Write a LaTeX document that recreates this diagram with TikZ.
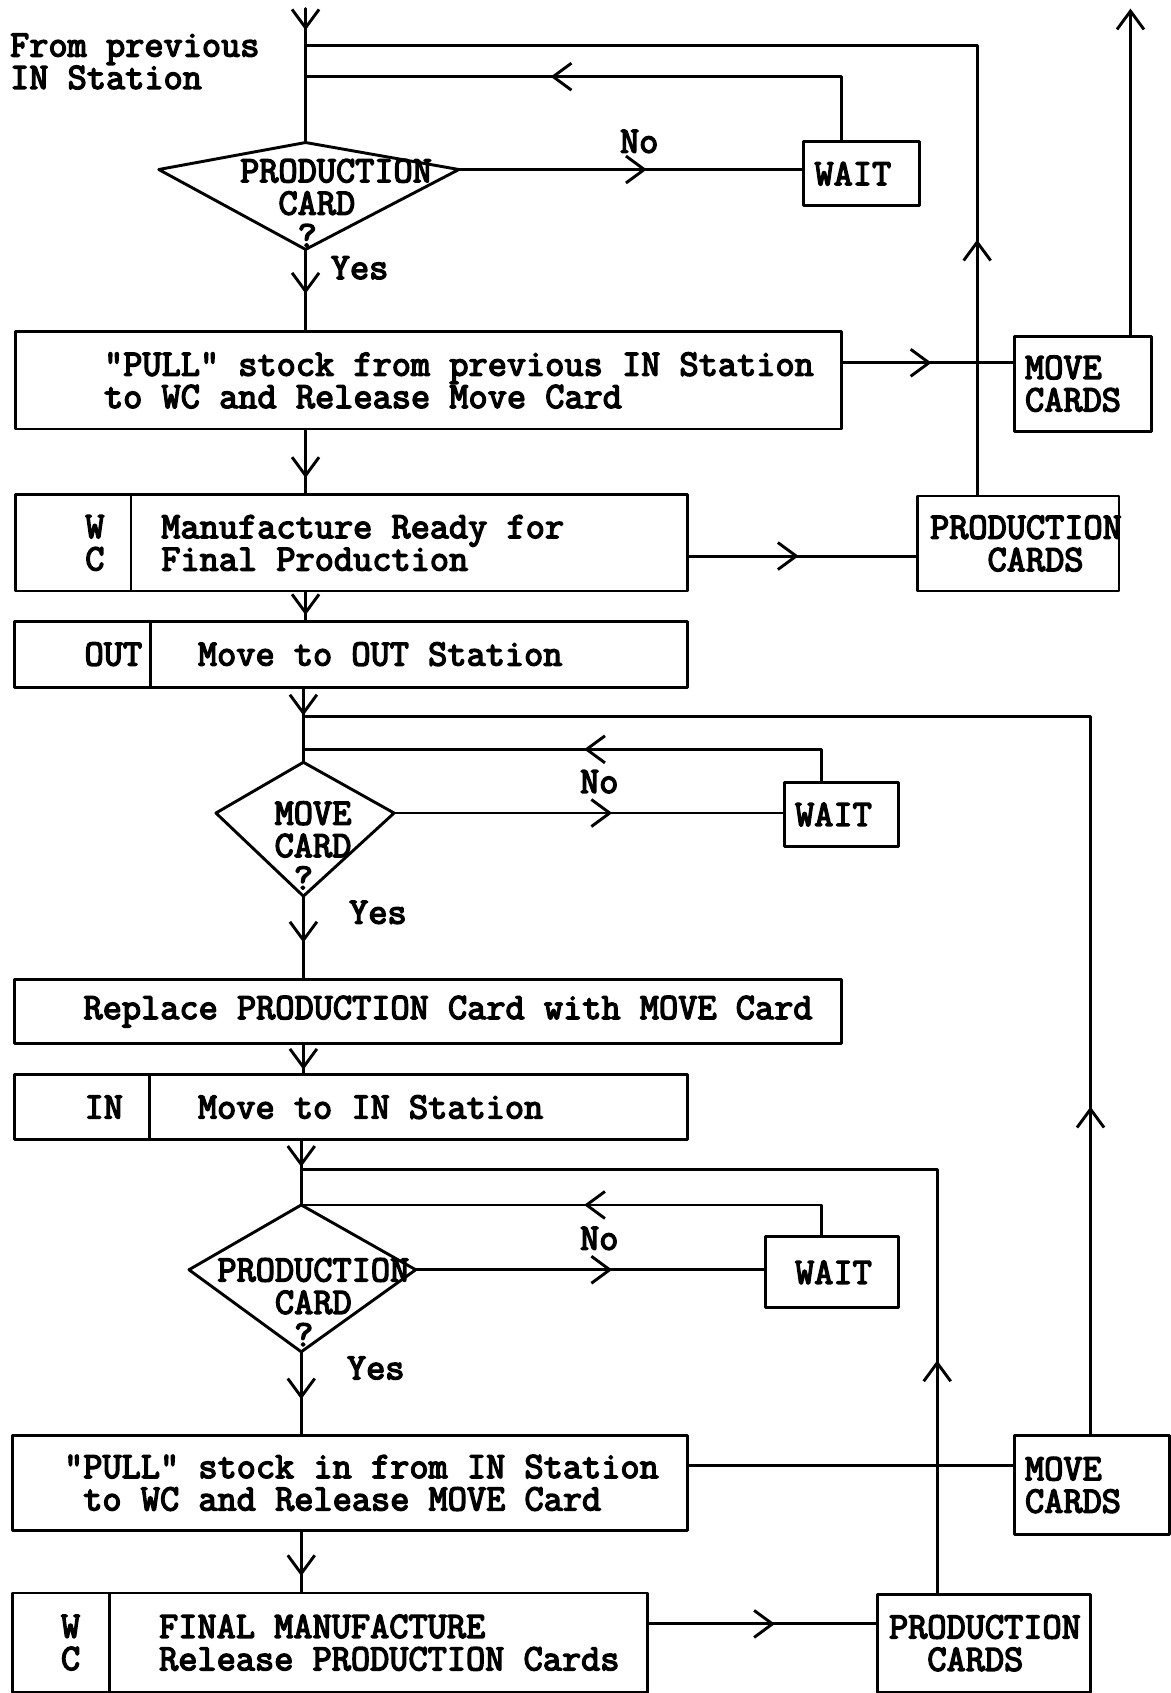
\documentclass[tikz,border=0pt]{standalone}
\usepackage{fontspec}
\newfontfamily\typefont{Latin Modern Mono}[FakeBold=4]
\usetikzlibrary{arrows.meta,decorations.markings}
\begin{document}
\begin{tikzpicture}[x=1pt,y=-1pt,
  line width=2.7pt, line cap=round, line join=round,
  >={Straight Barb[length=17pt,width=25pt]},
  every node/.style={font=\fontsize{34.5}{30}\selectfont\typefont, inner sep=0pt},
  box/.style={draw, rectangle, anchor=north west},
  txt/.style={align=left, anchor=west},
  arrowat/.style={postaction={decorate,decoration={markings,mark=at position #1 with {\arrow{>}}}}}
]
\useasboundingbox (0,0) rectangle (1084,1568);

% ---------- stage 1: pull from previous IN station ----------
\coordinate (src) at (283,8);
\coordinate (j1) at (283,42);
\coordinate (j2) at (283,71);
\node[txt] (from) at (8,57) {From previous\\IN Station};

\coordinate (d1t) at (283,132);
\coordinate (d1l) at (147,157);
\coordinate (d1r) at (425,157);
\coordinate (d1b) at (283,231);
\draw (d1t) -- (d1r) -- (d1b) -- (d1l) -- cycle;
\node[txt] (d1txt) at (221,188) {PRODUCTION\\\phantom{XX}CARD\\\phantom{XXX}?};

\node[box, minimum width=107, minimum height=59] (wait1) at (743,130) {};
\node[txt] (wait1t) at ([xshift=10pt]wait1.west) {WAIT};

\node[box, minimum width=765, minimum height=90] (pull1) at (13,306) {};
\node[txt] (pull1t) at ([xshift=82pt]pull1.west) {"PULL" stock from previous IN Station\\to WC and Release Move Card};

\node[box, minimum width=127, minimum height=88] (mc1) at (938,310) {};
\node[txt] (mc1t) at ([xshift=10pt]mc1.west) {MOVE\\CARDS};

\node[box, minimum width=107, minimum height=89] (wc1a) at (13,457) {};
\node[box, minimum width=515, minimum height=89] (wc1b) at (120,457) {};
\node[align=center] (wc1at) at ([xshift=20pt]wc1a.center) {W\\C};
\node[txt] (wc1bt) at ([xshift=28pt]wc1b.west) {Manufacture Ready for\\Final Production};

\node[box, minimum width=187, minimum height=88] (pc1) at (848,458) {};
\node[txt] (pc1t) at ([xshift=12pt]pc1.west) {PRODUCTION\\\phantom{XXX}CARDS};

\node[box, minimum width=126, minimum height=61] (outa) at (12,574) {};
\node[box, minimum width=497, minimum height=61] (outb) at (138,574) {};
\node[txt] (outat) at ([xshift=65pt]outa.west) {OUT};
\node[txt] (outbt) at ([xshift=44pt]outb.west) {Move to OUT Station};

% ---------- stage 2: move card check ----------
\coordinate (j3) at (283,664);
\coordinate (j4) at (281,694);
\coordinate (d2t) at (281,706);
\coordinate (d2l) at (200,753);
\coordinate (d2r) at (365,753);
\coordinate (d2b) at (281,830);
\draw (d2t) -- (d2r) -- (d2b) -- (d2l) -- cycle;
\node[txt] (d2txt) at (253,783) {MOVE\\CARD\\\phantom{X}?};

\node[box, minimum width=106, minimum height=60] (wait2) at (725,723) {};
\node[txt] (wait2t) at ([xshift=10pt]wait2.west) {WAIT};

\node[box, minimum width=766, minimum height=59] (repl) at (12,906) {};
\node[txt] (replt) at ([xshift=64pt]repl.west) {Replace PRODUCTION Card with MOVE Card};

\node[box, minimum width=125, minimum height=60] (ina) at (12,994) {};
\node[box, minimum width=498, minimum height=60] (inb) at (137,994) {};
\node[txt] (inat) at ([xshift=65pt]ina.west) {IN};
\node[txt] (inbt) at ([xshift=45pt]inb.west) {Move to IN Station};

% ---------- stage 3: final production ----------
\coordinate (j5) at (281,1083);
\coordinate (d3t) at (279,1116);
\coordinate (d3l) at (175,1176);
\coordinate (d3r) at (385,1176);
\coordinate (d3b) at (279,1252);
\draw (d3t) -- (d3r) -- (d3b) -- (d3l) -- cycle;
\node[txt] (d3txt) at (200,1206) {PRODUCTION\\\phantom{XXX}CARD\\\phantom{XXXX}?};

\node[box, minimum width=123, minimum height=66] (wait3) at (708,1144) {};
\node[txt] (wait3t) at ([xshift=27pt]wait3.west) {WAIT};

\node[box, minimum width=625, minimum height=88] (pull2) at (10,1328) {};
\node[txt] (pull2t) at ([xshift=48pt]pull2.west) {"PULL" stock in from IN Station\\\phantom{X}to WC and Release MOVE Card};

\node[box, minimum width=144, minimum height=92] (mc2) at (938,1328) {};
\node[txt] (mc2t) at ([xshift=10pt]mc2.west) {MOVE\\CARDS};

\node[box, minimum width=90, minimum height=92] (wc2a) at (10,1474) {};
\node[box, minimum width=498, minimum height=92] (wc2b) at (100,1474) {};
\node[align=center] (wc2at) at ([xshift=9pt]wc2a.center) {W\\C};
\node[txt] (wc2bt) at ([xshift=46pt]wc2b.west) {FINAL MANUFACTURE\\Release PRODUCTION Cards};

\node[box, minimum width=198, minimum height=91] (pc2) at (811,1475) {};
\node[txt] (pc2t) at ([xshift=11pt]pc2.west) {PRODUCTION\\\phantom{XX}CARDS};

% ---------- labels ----------
\node (no1) at (592,131) {No};
\node (yes1) at (333,248) {Yes};
\node (no2) at (555,724) {No};
\node (yes2) at (350,845) {Yes};
\node (no3) at (555,1147) {No};
\node (yes3) at (348,1267) {Yes};

% ---------- connectors ----------
\coordinate (out1) at (1047,8);
\coordinate (p1o) at ([yshift=-30pt]pull1.north east);
\coordinate (w1o) at ([yshift=-58pt]wc1b.north east);
\coordinate (p2o) at ([yshift=-29pt]pull2.north east);
\coordinate (w2o) at ([yshift=-30pt]wc2b.north east);

\draw[arrowat=20pt] (src) -- (d1t);
\draw[arrowat=236pt] ([xshift=57pt]pc1.north west) |- (j1);
\draw[arrowat=328pt] ([xshift=36pt]wait1.north west) |- (j2);
\draw[arrowat=174pt] (d1r) -- (d1r -| wait1.west);
\draw[arrowat=41pt] (d1b) -- (d1b |- pull1.north);
\draw[arrowat=82pt] (p1o) -- (p1o -| mc1.west);
\draw[->] (out1 |- mc1.north) -- (out1);
\draw[arrowat=44pt] (pull1.south -| d1b) -- (wc1b.north -| d1b);
\draw[arrowat=102pt] (w1o) -- (w1o -| pc1.west);
\draw[arrowat=21pt] (wc1b.south -| d1b) -- (outb.north -| d1b);

\draw[arrowat=25pt] (outb.south -| d2t) -- (d2t);
\draw[arrowat=303pt] ([xshift=72pt]mc2.north west) |- (j3);
\draw[arrowat=249pt] ([xshift=36pt]wait2.north west) |- (j4);
\draw[arrowat=202pt] (d2r) -- (d2r -| wait2.west);
\draw[arrowat=43pt] (d2b) -- (d2b |- repl.north);
\draw[arrowat=23pt] (repl.south -| d2b) -- (inb.north -| d2b);

\draw[arrowat=24pt] (inb.south -| d3t) -- (d3t);
\draw[arrowat=215pt] ([xshift=57pt]pc2.north west) |- (j5);
\draw[arrowat=248pt] ([xshift=53pt]wait3.north west) |- (d3t);
\draw[arrowat=182pt] (d3r) -- (d3r -| wait3.west);
\draw[arrowat=44pt] (d3b) -- (d3b |- pull2.north);
\draw (p2o) -- (p2o -| mc2.west);
\draw[arrowat=41pt] (pull2.south -| d3b) -- (wc2b.north -| d3b);
\draw[arrowat=117pt] (w2o) -- (w2o -| pc2.west);
\end{tikzpicture}
\end{document}
